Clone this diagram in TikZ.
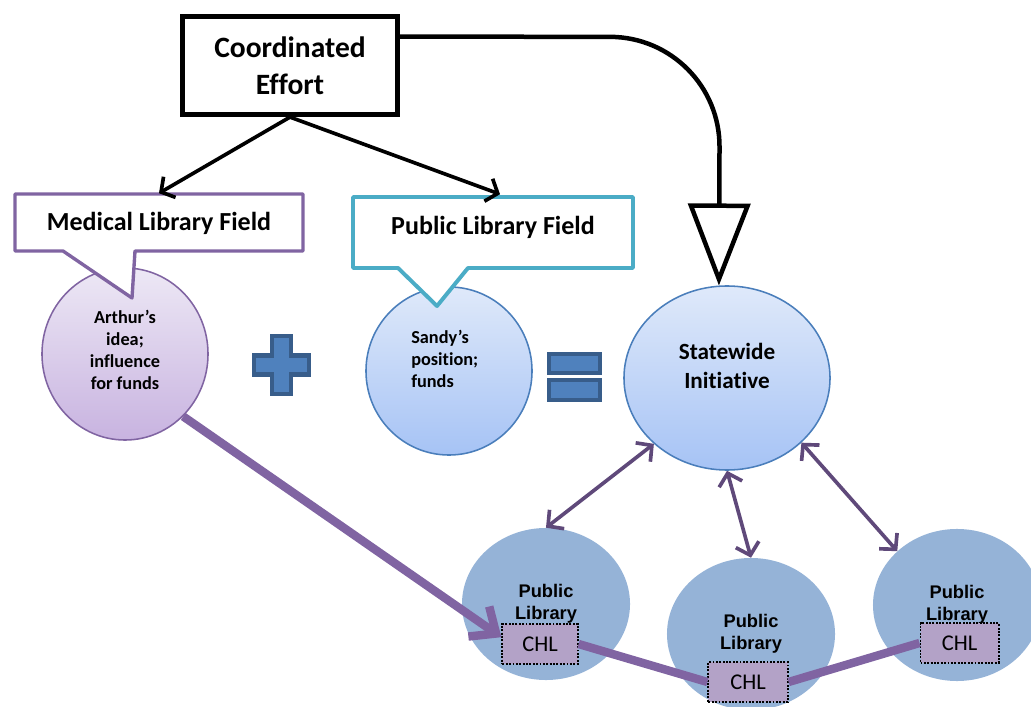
\documentclass[tikz,border=0pt]{standalone}
\usepackage{fontspec}
\setmainfont{Carlito}[Ligatures=NoCommon]
\newfontfamily\arialfont{Liberation Sans}
\usetikzlibrary{shapes.geometric,arrows.meta,calc}

\definecolor{calpurple}{HTML}{8064A2}
\definecolor{calteal}{HTML}{4BACC6}
\definecolor{lavtop}{HTML}{EDE8F5}
\definecolor{lavbot}{HTML}{C8B3E0}
\definecolor{bluetop}{HTML}{DFE9FA}
\definecolor{bluebot}{HTML}{A6C3F5}
\definecolor{ballblue}{HTML}{4A7EBB}
\definecolor{libblue}{HTML}{95B3D7}
\definecolor{chlfill}{HTML}{B3A2C7}
\definecolor{arrowpurple}{HTML}{5F497A}
\definecolor{signfill}{HTML}{4F81BD}
\definecolor{signborder}{HTML}{385D8A}

\tikzset{
  effortbox/.style={draw=black, line width=3.4pt, fill=white, line join=miter,
    minimum width=5.39cm, minimum height=2.46cm, align=center, inner sep=0pt,
    font=\fontsize{21}{26.3}\selectfont\bfseries},
  calloutpurple/.style={draw=calpurple, line width=2.4pt, fill=white, line join=round},
  calloutteal/.style={draw=calteal, line width=2.8pt, fill=white, line join=round},
  calloutbody/.style={inner sep=0pt},
  calloutlabel/.style={inner sep=0pt, font=\fontsize{18.5}{22}\selectfont\bfseries},
  lavball/.style={ellipse, draw=calpurple, line width=1.1pt, top color=lavtop,
    bottom color=lavbot, inner sep=0pt},
  blueball/.style={ellipse, draw=ballblue, line width=1.1pt, top color=bluetop,
    bottom color=bluebot, inner sep=0pt},
  balltext/.style={inner sep=0pt, font=\fontsize{13}{15.6}\selectfont\bfseries},
  libball/.style={ellipse, fill=libblue, inner sep=0pt, minimum width=4.2cm,
    minimum height=3.8cm, align=center,
    font=\arialfont\bfseries\fontsize{13}{15.6}\selectfont},
  chlbox/.style={draw=black, densely dotted, line width=1.4pt, fill=chlfill,
    minimum height=1.0cm, inner sep=0pt, font=\fontsize{16}{19}\selectfont},
  linkline/.style={draw=calpurple, line width=6pt},
  twoway/.style={draw=arrowpurple, line width=2.6pt,
    {Straight Barb[length=8pt,width=17pt]}-{Straight Barb[length=8pt,width=17pt]}},
  oneway/.style={draw=black, line width=2.6pt, -{Straight Barb[length=7pt,width=17pt]}},
  mathsign/.style={draw=signborder, fill=signfill, line width=3pt, line join=miter}
}

\begin{document}
\begin{tikzpicture}[x=0.025cm, y=-0.025cm]
\useasboundingbox (0,0) rectangle (1031,707);
\clip (0,0) rectangle (1031,707);

% public libraries at the bottom
\node[libball] (pl1) at (546,604) {Public\\Library};
\node[libball] (pl2) at (751,634) {Public\\Library};
\node[libball] (pl3) at (957,605) {Public\\Library};

% consumer health library boxes
\node[chlbox, minimum width=1.88cm] (chl1) at (540,644) {CHL};
\node[chlbox, minimum width=1.98cm] (chl2) at (748,682) {CHL};
\node[chlbox, minimum width=1.95cm] (chl3) at (959.5,643) {CHL};

% the three contributing circles
\node[lavball, minimum width=4.15cm, minimum height=4.3cm] (arthur) at (125,354) {};
\node[blueball, minimum width=4.15cm, minimum height=4.2cm] (sandy) at (449,371) {};
\node[blueball, minimum width=5.15cm, minimum height=4.6cm] (si) at (727,378) {};

\node[balltext, align=center] (arthurtxt) at (125,350) {Arthur’s\\idea;\\influence\\for funds};
\node[balltext, align=left, anchor=west] (sandytxt) at (411,359) {Sandy’s\\position;\\funds};
\node[inner sep=0pt, align=center, font=\fontsize{16.5}{20}\selectfont\bfseries]
  (sitxt) at (727,366) {Statewide\\Initiative};

% links between the CHL boxes
\draw[linkline, -{Straight Barb[length=15pt,width=26pt]}] (arthur.-47) -- (chl1.170);
\draw[linkline] (chl1.east) -- (chl2.west);
\draw[linkline] (chl2.east) -- (chl3.west);

% speech bubbles
\draw[calloutpurple] (15,194) -- (303,194) -- (303,251) -- (135,251) -- (132,298)
  -- (63,251) -- (15,251) -- cycle;
\node[calloutbody, minimum width=7.2cm, minimum height=1.45cm] (mlf) at (159,222.5) {};
\node[calloutlabel] (mlftxt) at (159,223) {Medical Library Field};

\draw[calloutteal] (353,197) -- (633,197) -- (633,268) -- (468,268) -- (437,306)
  -- (398,268) -- (353,268) -- cycle;
\node[calloutbody, minimum width=7.0cm, minimum height=1.8cm] (plf) at (493,232.5) {};
\node[calloutlabel] (plftxt) at (493,227) {Public Library Field};

% coordinated effort and its arrows
\node[effortbox] (ce) at (290,65.5) {Coordinated\\Effort};
\draw[oneway] (ce.south) -- (mlf.north);
\draw[oneway] (ce.south) -- ($(plf.north)+(7,-2)$);
\draw[line width=3.2pt, rounded corners=2.75cm,
  -{Triangle[open,length=2.05cm,width=1.55cm]}]
  ($(ce.north east)!0.22!(ce.south east)$) -- (720,37) -- (si.95);

% plus and equals signs
\draw[mathsign] (272,336) -- (291,336) -- (291,355.5) -- (309,355.5) -- (309,374.5)
  -- (291,374.5) -- (291,394) -- (272,394) -- (272,374.5) -- (254,374.5)
  -- (254,355.5) -- (272,355.5) -- cycle;
\draw[mathsign] (549,354) rectangle (600,373);
\draw[mathsign] (549,380) rectangle (600,400);

% two-way links between the initiative and the libraries
\draw[twoway] (si.-138) -- (pl1.north);
\draw[twoway] (si.-90) -- (pl2.north);
\draw[twoway] (si.-41) -- (pl3.138);
\end{tikzpicture}
\end{document}
